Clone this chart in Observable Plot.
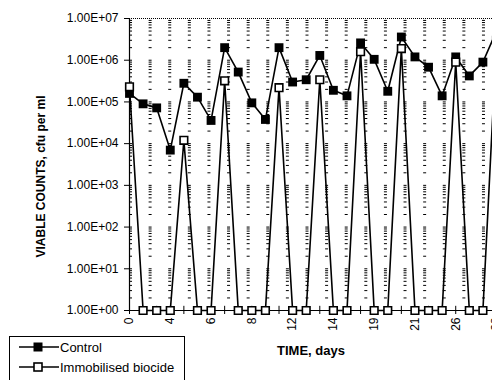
<!DOCTYPE html>
<html>
<head>
<meta charset="utf-8">
<script src="https://cdn.jsdelivr.net/npm/d3@7"></script>
<script src="https://cdn.jsdelivr.net/npm/@observablehq/plot@0.6"></script>
<style>
  html, body { margin: 0; padding: 0; background: white; overflow: hidden; }
  #wrap { position: relative; width: 492px; height: 380px; overflow: hidden; font-family: "Liberation Sans", Arial, sans-serif; }
  #legend { position: absolute; left: 9px; top: 336px; width: 176px; height: 60px; border: 1px solid black; background: white; box-sizing: border-box; }
  #legend .row { position: absolute; left: 0; height: 20px; display: flex; align-items: center; font-size: 13px; color: black; }
</style>
</head>
<body>
<div id="wrap"></div>
<script>
// Category index (equally spaced samples) and the day labels shown on the axis
const categories = [0,1,2,3,4,5,6,7,8,9,10,11,12,13,14,15,16,17,18,19,20,21,22,23,24,25,26,27];
const tickLabels = {0:"0", 3:"4", 6:"6", 9:"8", 12:"12", 15:"14", 18:"19", 21:"21", 24:"26", 27:"28"};

// Viable counts, cfu per ml
const control = [1.6e5, 9e4, 7.2e4, 7e3, 2.8e5, 1.3e5, 3.6e4, 2e6, 5.2e5, 9.5e4,
                 3.8e4, 2e6, 3e5, 3.4e5, 1.3e6, 1.9e5, 1.4e5, 2.6e6, 1.05e6, 1.8e5,
                 3.6e6, 1.2e6, 6.8e5, 1.4e5, 1.2e6, 4.2e5, 9e5, 5e6];
const immobilised = [2.3e5, 1, 1, 1, 1.2e4, 1, 1, 3.2e5, 1, 1,
                     1, 2.2e5, 1, 1, 3.4e5, 1, 1, 1.6e6, 1, 1,
                     1.9e6, 1, 1, 1, 9e5, 1, 1, 3e6];
const seriesNames = ["Control", "Immobilised biocide"];
const yTicks = [1, 1e1, 1e2, 1e3, 1e4, 1e5, 1e6, 1e7];

const controlData = categories.map((c, i) => ({i: c, v: control[i]}));
const immobData = categories.map((c, i) => ({i: c, v: immobilised[i]}));

// minor log gridline values (rendered as sparse dashes)
const minorVals = [];
for (let k = 0; k < 7; k++) for (let m = 1; m <= 9; m++) {
  const v = m * Math.pow(10, k);
  if (v > 1 && v < 1e7) minorVals.push(v);
}

const chart = Plot.plot({
  width: 492,
  height: 380,
  marginLeft: 129,
  marginRight: 0,
  marginTop: 18,
  marginBottom: 70,
  x: {domain: [0, 27], range: [129, 496]},
  y: {type: "log", domain: [1, 1e7], range: [310, 18]},
  style: {fontFamily: "'Liberation Sans', Arial, sans-serif", fontSize: "12px", color: "black", background: "white", overflow: "hidden"},
  marks: [
    Plot.ruleY(minorVals, {y: d => d, x1: 0, x2: 27, stroke: "black", strokeWidth: 1, strokeDasharray: "3,16.61"}),
    Plot.ruleY([1e7], {stroke: "black", strokeWidth: 1, strokeDasharray: "1,1"}),
    Plot.ruleX([0], {y1: 1, y2: 1e7, stroke: "black", strokeWidth: 1.2}),
    Plot.ruleY([1], {stroke: "black", strokeWidth: 1.2}),
    Plot.ruleX(categories, {x: d => d, y1: 1, y2: 1.26, stroke: "black", strokeWidth: 1}),
    Plot.axisY({ticks: yTicks, tickFormat: d => "1.00E+" + String(Math.round(Math.log10(d))).padStart(2, "0"),
                tickSize: 5, tickPadding: 6, label: null, fontSize: 12}),
    Plot.axisX({ticks: categories, tickFormat: d => tickLabels[d] ?? "", tickRotate: -90,
                tickSize: 4, tickPadding: 3, label: null, fontSize: 12}),
    Plot.line(controlData, {x: "i", y: "v", stroke: "black", strokeWidth: 1.6}),
    Plot.dot(controlData, {x: "i", y: "v", symbol: "square", r: 5, fill: "black"}),
    Plot.line(immobData, {x: "i", y: "v", stroke: "black", strokeWidth: 1.6}),
    Plot.dot(immobData, {x: "i", y: "v", symbol: "square", r: 4.3, fill: "white", stroke: "black", strokeWidth: 1.6}),
    Plot.text(["VIABLE COUNTS, cfu per ml"], {frameAnchor: "left", dx: -88, dy: 12, rotate: -90,
              fontWeight: "bold", fontSize: 12, lineAnchor: "middle", textAnchor: "middle"}),
    Plot.text(["TIME, days"], {frameAnchor: "bottom", dy: 40, fontWeight: "bold", fontSize: 13,
              lineAnchor: "middle", textAnchor: "middle"})
  ]
});

const wrap = document.getElementById("wrap");
wrap.appendChild(chart);

// Legend overlay
const legend = document.createElement("div");
legend.id = "legend";
const ns = "http://www.w3.org/2000/svg";
seriesNames.forEach((name, k) => {
  const row = document.createElement("div");
  row.className = "row";
  row.style.top = (k * 20) + "px";
  const s = document.createElementNS(ns, "svg");
  s.setAttribute("width", "50");
  s.setAttribute("height", "20");
  const ln = document.createElementNS(ns, "line");
  ln.setAttribute("x1", "9"); ln.setAttribute("x2", "49");
  ln.setAttribute("y1", "10"); ln.setAttribute("y2", "10");
  ln.setAttribute("stroke", "black"); ln.setAttribute("stroke-width", "1.6");
  s.appendChild(ln);
  const sq = document.createElementNS(ns, "rect");
  if (k === 0) {
    sq.setAttribute("x", "23.5"); sq.setAttribute("y", "5.5"); sq.setAttribute("width", "9"); sq.setAttribute("height", "9");
    sq.setAttribute("fill", "black");
  } else {
    sq.setAttribute("x", "24"); sq.setAttribute("y", "6"); sq.setAttribute("width", "8"); sq.setAttribute("height", "8");
    sq.setAttribute("fill", "white"); sq.setAttribute("stroke", "black"); sq.setAttribute("stroke-width", "1.6");
  }
  s.appendChild(sq);
  row.appendChild(s);
  const t = document.createElement("span");
  t.textContent = name;
  row.appendChild(t);
  legend.appendChild(row);
});
wrap.appendChild(legend);
</script>
</body>
</html>
